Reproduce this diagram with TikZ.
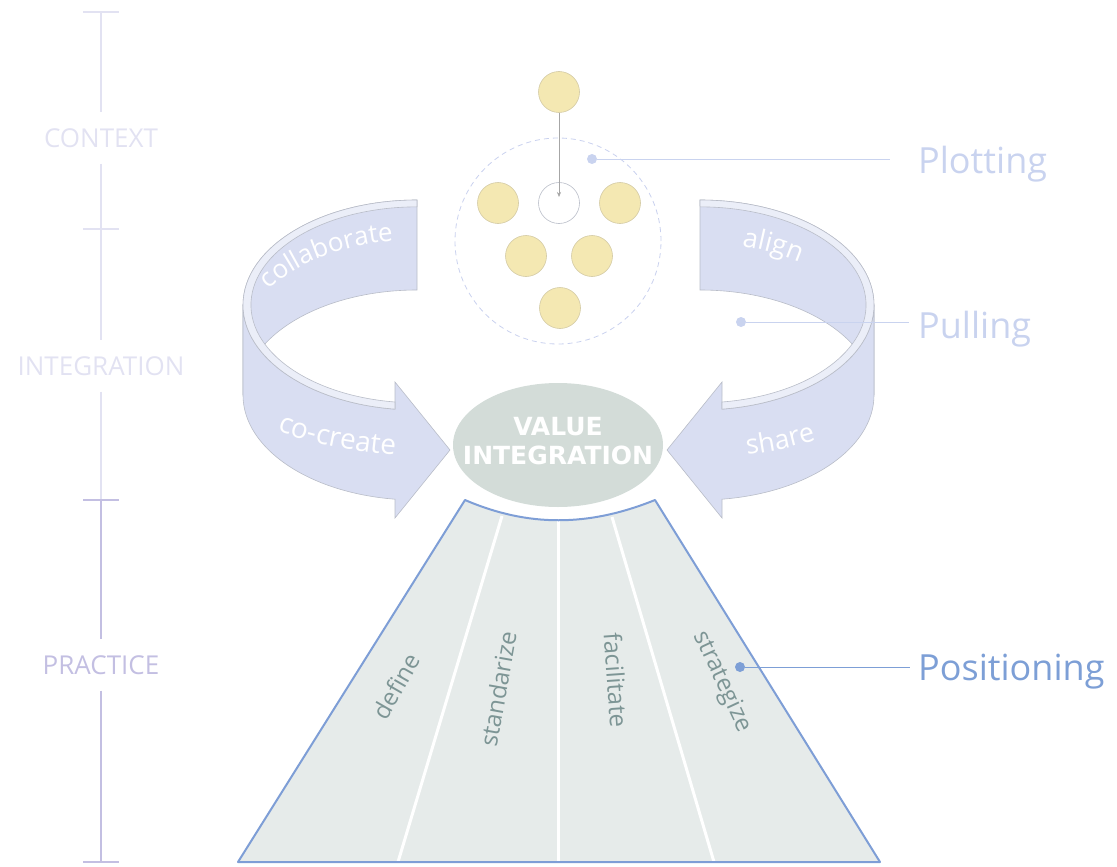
\documentclass[tikz,border=0pt]{standalone}
\usepackage{fontspec}
\setmainfont{Open Sans}
\newfontfamily\valuefont{DejaVu Sans}
\usetikzlibrary{shapes.geometric,arrows.meta,decorations.text}
\definecolor{AxisLight}{HTML}{E2E2F2}
\definecolor{AxisDark}{HTML}{C3BFE2}
\definecolor{BandFace}{HTML}{D9DEF2}
\definecolor{BandRim}{HTML}{EBEEF8}
\definecolor{BandLine}{HTML}{B9BDC8}
\definecolor{BeadFill}{HTML}{F4E8B2}
\definecolor{BeadLine}{HTML}{D3CAA4}
\definecolor{RingLine}{HTML}{C9D1EE}
\definecolor{ValueFill}{HTML}{D3DCD8}
\definecolor{FunnelFill}{HTML}{E6EBEA}
\definecolor{FunnelLine}{HTML}{7E9ED6}
\definecolor{WordCol}{HTML}{7D9595}
\definecolor{CallLight}{HTML}{C9D3EF}
\definecolor{CallDark}{HTML}{7D9FD6}

% one curved band with its arrow head, drawn for the left side
\newcommand{\swoosh}{%
  \filldraw[bandface] (417,-200) arc[start angle=90,end angle=180,x radius=174,y radius=105]
    -- (243,-395) arc[start angle=180,end angle=90,x radius=174,y radius=105] -- cycle;
  \filldraw[bandface] (243,-305) arc[start angle=180,end angle=262.74,x radius=174,y radius=105]
    -- (395,-382) -- (450,-450) -- (395,-518) -- (395,-499.2)
    arc[start angle=262.74,end angle=180,x radius=174,y radius=105] -- cycle;
  \filldraw[bandrim] (417,-200) arc[start angle=90,end angle=262.74,x radius=174,y radius=105]
    -- (395,-402) arc[start angle=262.4,end angle=90,x radius=166,y radius=98] -- cycle;
}

\begin{document}
\begin{tikzpicture}[x=1pt,y=1pt,
  axislight/.style={AxisLight,line width=2pt},
  axisdark/.style={AxisDark,line width=2pt},
  axislab/.style={font=\fontsize{26}{30}\selectfont,text height=19pt,text depth=0pt,inner xsep=0pt,inner ysep=16pt},
  bandface/.style={fill=BandFace,draw=BandLine,line width=0.6pt},
  bandrim/.style={fill=BandRim,draw=BandLine,line width=0.6pt},
  bead/.style={circle,minimum size=41pt,inner sep=0pt,fill=BeadFill,draw=BeadLine,line width=0.6pt},
  calldot/.style={circle,minimum size=10pt,inner sep=0pt},
  calllab/.style={anchor=base west,inner sep=0pt,font=\fontsize{36}{40}\selectfont},
  stripword/.style={font=\fontsize{24}{28}\selectfont,text=WordCol},
]
\path[use as bounding box] (0,0) rectangle (1117,-867);

% scale on the left
\coordinate (t0) at (101,-12);
\coordinate (t1) at (101,-229);
\coordinate (t2) at (101,-500);
\coordinate (t3) at (101,-862);
\node[axislab,text=AxisLight] (ctx) at (101,-138) {CONTEXT};
\node[axislab,text=AxisLight] (integ) at (101,-366) {INTEGRATION};
\node[axislab,text=AxisDark] (prac) at (101,-665) {PRACTICE};
\draw[axislight] (t0) -- (ctx);
\draw[axislight] (ctx) -- (t1) -- (integ);
\draw[axislight] (integ) -- (t2);
\draw[axisdark] (t2) -- (prac);
\draw[axisdark] (prac) -- (t3);
\foreach \t in {t0,t1}
  \draw[axislight] ([xshift=-18pt]\t) -- ([xshift=18pt]\t);
\foreach \t in {t2,t3}
  \draw[axisdark] ([xshift=-18pt]\t) -- ([xshift=18pt]\t);

% the two curved bands
\swoosh
\begin{scope}[xshift=1117pt,xscale=-1]
\swoosh
\end{scope}
\path[decorate,decoration={text along path,text align=center,text color=white,
  text={|\fontsize{26}{26}\selectfont|collaborate}}]
  (417,-345) ++(155:174 and 105) arc[start angle=155,end angle=93,x radius=174,y radius=105];
\path[decorate,decoration={text along path,text align=center,text color=white,
  text={|\fontsize{28}{28}\selectfont|co-create}}]
  (268,-427) .. controls (305,-442) and (345,-452) .. (405,-456);
\path[decorate,decoration={text along path,text align=center,text color=white,
  text={|\fontsize{27}{27}\selectfont|align}}]
  (700,-348) ++(82:173 and 105) arc[start angle=82,end angle=48,x radius=173,y radius=105];
\path[decorate,decoration={text along path,text align=center,text color=white,
  text={|\fontsize{27}{27}\selectfont|share}}]
  (712,-458) .. controls (772,-454) and (812,-444) .. (849,-427);

% plotting group
\node[circle,minimum size=206pt,draw=RingLine,dash pattern=on 5pt off 4pt,line width=0.8pt] (ring) at (558,-241) {};
\node[bead] (topbead) at (559,-92) {};
\node[bead,fill=white,draw=BandLine] (hole) at (559,-203) {};
\node[bead] (b1) at (498,-203) {};
\node[bead] (b2) at (620,-203) {};
\node[bead] (b3) at (526,-256) {};
\node[bead] (b4) at (592,-256) {};
\node[bead] (b5) at (560,-308) {};
\draw[gray!70,line width=0.6pt,-{Stealth[length=5pt,width=4pt]}] (topbead) -- ([yshift=6pt]hole.center);

% value integration
\node[ellipse,minimum width=210pt,minimum height=124pt,inner sep=0pt,fill=ValueFill] (value) at (558,-445) {};
\node[text=white,align=center,font=\valuefont\bfseries\fontsize{25}{29}\selectfont]
  (valuetxt) at ([yshift=4pt]value.center) {VALUE\\INTEGRATION};

% positioning funnel
\fill[FunnelFill] (465,-500) .. controls (528,-527) and (588,-527) .. (655,-500) -- (880,-862) -- (238,-862) -- cycle;
\draw[white,line width=3pt] (502,-516) -- (398,-862);
\draw[white,line width=3pt] (558,-520) -- (558,-862);
\draw[white,line width=3pt] (612,-517) -- (714,-862);
\draw[FunnelLine,line width=2pt,line join=round] (465,-500) .. controls (528,-527) and (588,-527) .. (655,-500) -- (880,-862) -- (238,-862) -- cycle;
\node[stripword,rotate=60] (define) at (396,-686) {define};
\node[stripword,rotate=80] (standarize) at (498,-689) {standarize};
\node[stripword,rotate=-86] (facilitate) at (616,-680) {facilitate};
\node[stripword,rotate=-65] (strategize) at (722,-682) {strategize};

% callouts
\node[calldot,fill=CallLight] (plotdot) at (592,-159) {};
\node[calldot,fill=CallLight] (pulldot) at (741,-322) {};
\node[calldot,fill=CallDark] (posdot) at (740,-667) {};
\node[calllab,text=CallLight] (plotlab) at (918,-173) {Plotting};
\node[calllab,text=CallLight] (pulllab) at (918,-338) {Pulling};
\node[calllab,text=CallDark] (poslab) at (918,-680) {Positioning};
\draw[CallLight,line width=1pt,shorten >=28pt] (plotdot) -- (plotdot -| plotlab.west);
\draw[CallLight,line width=1pt,shorten >=9pt] (pulldot) -- (pulldot -| pulllab.west);
\draw[CallDark,line width=1pt,shorten >=8pt] (posdot) -- (posdot -| poslab.west);
\end{tikzpicture}
\end{document}
